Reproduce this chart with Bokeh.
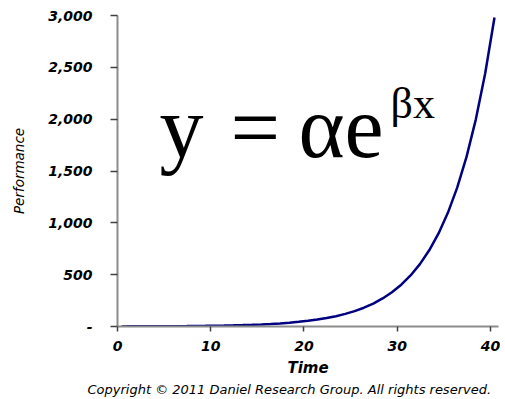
from bokeh.plotting import figure
from bokeh.models import ColumnDataSource, Range1d, NumeralTickFormatter, FixedTicker, Title
from bokeh.core.properties import value
from bokeh.transform import dodge
from bokeh.embed import file_html
from bokeh.resources import INLINE

# data (performance grows exponentially over time)
time = list(range(0, 41))
performance = [1.0, 1.22, 1.49, 1.82, 2.23, 2.72, 3.32, 4.06, 4.95, 6.05,
               7.39, 9.03, 11.0, 13.5, 16.4, 20.1, 24.5, 30.0, 36.6, 44.7,
               54.6, 66.7, 81.5, 99.5, 121.5, 148.4, 181.3, 221.4, 270.4, 330.3,
               403.4, 492.7, 601.8, 735.1, 897.8, 1096.6, 1339.4, 1636.0, 1998.2, 2440.6,
               2981.0]
x_ticks = [0, 10, 20, 30, 40]
y_ticks = [0, 500, 1000, 1500, 2000, 2500, 3000]

FONT = "DejaVu Sans"
SERIF = "Liberation Serif"

p = figure(width=500, height=397, output_backend="svg", toolbar_location=None,
           x_range=Range1d(0, 40.86), y_range=Range1d(0, 3000),
           min_border_left=117, min_border_right=2, min_border_top=15, min_border_bottom=70)
p.outline_line_color = None
p.grid.grid_line_color = None
p.background_fill_color = "white"
p.border_fill_color = "white"

src = ColumnDataSource(dict(time=time, performance=performance))
p.line(x=dodge("time", 0.43, range=p.x_range), y="performance", source=src,
       line_color="#000080", line_width=2.5)

# axes
p.xaxis.ticker = FixedTicker(ticks=x_ticks)
p.yaxis.ticker = FixedTicker(ticks=y_ticks)
p.yaxis.formatter = NumeralTickFormatter(format="0,0")
p.yaxis.major_label_overrides = {0: "-"}
for ax in (p.xaxis, p.yaxis):
    ax.axis_line_color = "#8c8c8c"
    ax.axis_line_width = 2
    ax.major_tick_line_color = "#404040"
    ax.major_tick_line_width = 1.5
    ax.minor_tick_line_color = None
    ax.major_tick_in = 0
    ax.major_label_text_font = FONT
    ax.major_label_text_font_style = "bold italic"
    ax.major_label_text_font_size = "14px"
    ax.major_label_text_color = "black"
    ax.axis_label_text_font = FONT
    ax.axis_label_text_color = "black"
p.xaxis.major_tick_out = 5
p.yaxis.major_tick_out = 7
p.xaxis.major_label_standoff = 9
p.yaxis.major_label_standoff = 18
p.xaxis.axis_label = "Time"
p.xaxis.axis_label_text_font_style = "bold italic"
p.xaxis.axis_label_text_font_size = "15px"
p.xaxis.axis_label_standoff = 5
p.yaxis.axis_label = "Performance"
p.yaxis.axis_label_text_font_style = "italic"
p.yaxis.axis_label_text_font_size = "13.5px"
p.yaxis.axis_label_standoff = 18

# equation annotation y = αe^{βx}
eq_parts = [("y", 4.50, 1923, "88px"),
            ("=", 12.12, 1923, "88px"),
            ("\u03b1e", 19.41, 1923, "88px"),
            ("\u03b2x", 29.28, 2149, "44px")]
for txt, xx, yy, size in eq_parts:
    p.text(x=[xx], y=[yy], text=[txt], text_font=value(SERIF), text_font_size=value(size),
           text_font_style="normal", text_color="black",
           text_align="left", text_baseline="alphabetic")

p.add_layout(Title(text="Copyright \u00a9 2011 Daniel Research Group. All rights reserved.",
                   text_font=FONT, text_font_size="13px", text_font_style="italic",
                   text_color="black", align="left", offset=-30, standoff=1), "below")

open("out.html", "w").write(file_html(p, INLINE))
